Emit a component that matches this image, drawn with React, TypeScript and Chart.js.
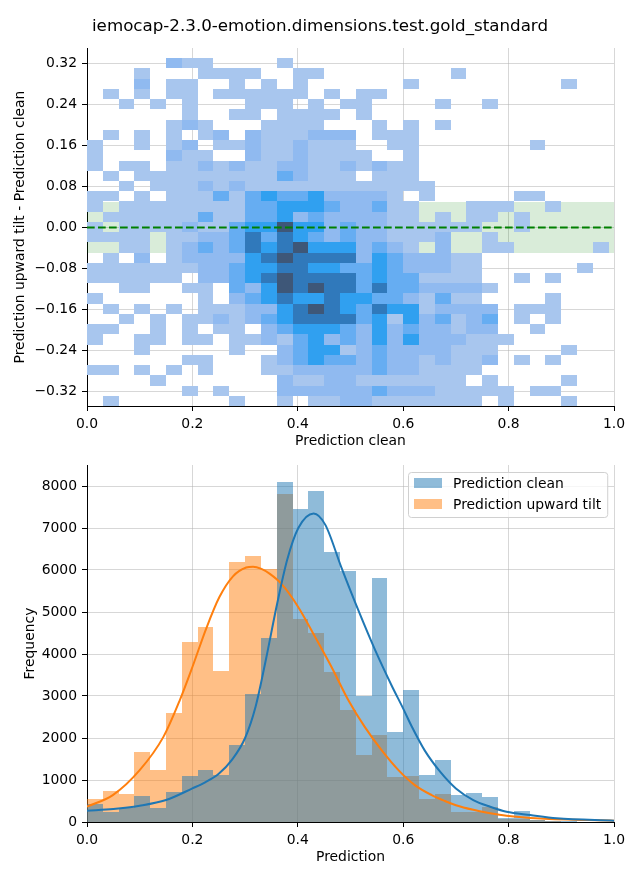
import React, { useEffect, useRef } from 'react';
import { Chart, registerables } from 'chart.js';

Chart.register(...registerables);

// ---------- text ----------
const TITLE = 'iemocap-2.3.0-emotion.dimensions.test.gold_standard';
const TOP_X_LABEL = 'Prediction clean';
const TOP_Y_LABEL = 'Prediction upward tilt - Prediction clean';
const BOT_X_LABEL = 'Prediction';
const BOT_Y_LABEL = 'Frequency';
const SERIES_CLEAN = 'Prediction clean';
const SERIES_TILT = 'Prediction upward tilt';

// ---------- top: 2D histogram (difference vs clean) ----------
const heatXStart = 0;
const heatXStep = 0.03;
const heatYStart = -0.349;
const heatYStep = 0.02;
// count level per cell (0 = empty ... 6 = highest), top row first, 34 columns
const heatRows = [
  '0000000000000000000000000000000000',
  '0000021100001000000000000000000000',
  '0001000111100110000000010000000000',
  '0002011001010100000010000000001000',
  '0101011011111101011000000000000000',
  '0010101000111010110000100100000000',
  '0000001001101111010000000000000000',
  '0000012100011110001010100000000000',
  '0101010120211122201110000000000000',
  '1001012011211211100110000000100000',
  '1000021100211211110010000000000000',
  '1011011212112211212110000000000000',
  '0101111111113211101110000000000000',
  '0010111212111111111111000000000000',
  '1101011131343342222101000001100000',
  '1011111111334443223110001110010000',
  '0111111311334232222110101101000000',
  '1011112113446442322111111001000000',
  '1111011223535432322111200100000000',
  '0011012323545644423210200110000010',
  '0102012222456555524322211000000000',
  '1111111223445544334322211000000100',
  '1111110223456555534331111001010000',
  '0011001103246565535332222100000000',
  '1000000102345445443321311000010000',
  '0101010111224565435441222201110000',
  '0010101121234555534142312301010000',
  '1100101011023444324232212200100000',
  '1001101101121342324242221110000000',
  '0001000001002344123222211100001000',
  '0000001100012343323221211201010000',
  '1101010100011222223221111000000000',
  '0000100000002112211111110100001000',
  '0000001010002222223222111110110000',
  '0100000001001011221111111010001000',
];
const heatPalette = ['#ffffff', '#a8c6ee', '#90baf0', '#66adf2', '#30a0f0', '#3079bb', '#3e5778'];
const bandLow = -0.05;
const bandHigh = 0.05;
const zeroLine = 0;
const topXRange = [0, 1];
const topYRange = [-0.349, 0.351];
const topYTicks = [-0.32, -0.24, -0.16, -0.08, 0, 0.08, 0.16, 0.24, 0.32];
const xTicks = [0, 0.2, 0.4, 0.6, 0.8, 1.0];

// ---------- bottom: histograms + KDE ----------
const binStart = 0;
const binWidth = 0.03;
const cleanCounts = [435, 245, 340, 618, 340, 713, 1093, 1235, 1116, 1829, 3040, 4370, 8100, 7458, 7886, 6437, 5986, 2993, 5819, 2138, 3135, 1116, 1473, 641, 689, 594, 90, 261, 40, 20, 15, 10, 5, 3];
const tiltCounts = [546, 736, 673, 1663, 1235, 2589, 4276, 4632, 3587, 6200, 6342, 6025, 7800, 4822, 4489, 3563, 2660, 1591, 2066, 1069, 1093, 546, 665, 230, 250, 356, 70, 70, 40, 20, 10, 8, 5, 3];
const cleanKdeX = [0, 0.05, 0.1, 0.15, 0.2, 0.225, 0.25, 0.275, 0.3, 0.32, 0.34, 0.36, 0.38, 0.401, 0.43, 0.452, 0.483, 0.515, 0.547, 0.578, 0.6, 0.616, 0.641, 0.67, 0.7, 0.733, 0.765, 0.796, 0.841, 0.891, 1.0];
const cleanKdeY = [270, 309, 388, 523, 800, 950, 1150, 1480, 2000, 2750, 3900, 5150, 6250, 7000, 7347, 7080, 6050, 5036, 4085, 3250, 2700, 2280, 1700, 1200, 800, 523, 364, 245, 166, 87, 32];
const tiltKdeX = [0, 0.049, 0.1, 0.145, 0.176, 0.2, 0.226, 0.251, 0.277, 0.302, 0.315, 0.331, 0.347, 0.369, 0.401, 0.433, 0.464, 0.496, 0.527, 0.559, 0.591, 0.622, 0.654, 0.679, 0.7, 0.733, 0.765, 0.796, 0.86, 1.0];
const tiltKdeY = [364, 641, 1235, 2027, 2898, 3690, 4600, 5350, 5850, 6060, 6080, 6025, 5907, 5669, 5115, 4402, 3690, 2898, 2264, 1710, 1235, 879, 641, 500, 400, 290, 210, 150, 85, 32];
const botYRange = [0, 8500];
const botYTicks = [0, 1000, 2000, 3000, 4000, 5000, 6000, 7000, 8000];

// ---------- styles ----------
const FONT = 'DejaVu Sans';
const FS = 13.9;
const GRID = 'rgba(176,176,176,0.5)';
const BLUE = '#1f77b4';
const ORANGE = '#ff7f0e';
const BLUE_FILL = 'rgba(31,119,180,0.5)';
const ORANGE_FILL = 'rgba(255,127,14,0.5)';

const fmtMinus = (s: string) => s.replace('-', '\u2212');

function axisCommon(ticks: number[], fmt: (v: number) => string, titleText: string, titlePad: any) {
  return {
    type: 'linear',
    z: 1,
    grid: { color: GRID, lineWidth: 1, tickLength: 5, tickColor: '#000', tickWidth: 1, offset: false },
    border: { display: true, color: '#000', width: 1 },
    ticks: {
      color: '#000',
      font: { family: FONT, size: FS },
      padding: 5,
      autoSkip: false,
      maxRotation: 0,
      minRotation: 0,
      callback: (v: any) => fmt(Number(v)),
    },
    afterBuildTicks: (scale: any) => {
      scale.ticks = ticks.map((v) => ({ value: v }));
    },
    title: {
      display: true,
      text: titleText,
      color: '#000',
      font: { family: FONT, size: FS },
      padding: titlePad,
    },
  };
}

function fixSize(prop: 'width' | 'height', size: number) {
  return (s: any) => {
    s[prop] = size;
    s.paddingTop = 0;
    s.paddingBottom = 0;
    s.paddingLeft = 0;
    s.paddingRight = 0;
  };
}

// drawn just before the zero line (dataset 0), i.e. after the green band
const heatmapPlugin = {
  id: 'heatmap',
  beforeDatasetDraw(chart: any, args: any) {
    if (args.index !== 0) return;
    const { ctx, chartArea, scales } = chart;
    const xs = scales.x;
    const ys = scales.y;
    const nRows = heatRows.length;
    ctx.save();
    ctx.beginPath();
    ctx.rect(chartArea.left, chartArea.top, chartArea.right - chartArea.left, chartArea.bottom - chartArea.top);
    ctx.clip();
    heatRows.forEach((row, r) => {
      const yBottom = heatYStart + (nRows - 1 - r) * heatYStep;
      const yTop = yBottom + heatYStep;
      const py0 = Math.round(ys.getPixelForValue(yTop));
      const py1 = Math.round(ys.getPixelForValue(yBottom));
      for (let c = 0; c < row.length; c++) {
        const lvl = Number(row[c]);
        if (!lvl) continue;
        const x0 = heatXStart + c * heatXStep;
        const px0 = Math.round(xs.getPixelForValue(x0));
        const px1 = Math.round(xs.getPixelForValue(x0 + heatXStep));
        ctx.fillStyle = heatPalette[lvl];
        ctx.fillRect(px0, py0, px1 - px0, py1 - py0);
      }
    });
    ctx.restore();
  },
};

// snap bar edges to whole pixels so adjacent translucent bars do not show seams
const snapBarsPlugin = {
  id: 'snapBars',
  beforeDatasetDraw(chart: any, args: any) {
    const meta = chart.getDatasetMeta(args.index);
    if (meta.type !== 'bar') return;
    meta.data.forEach((el: any) => {
      const left = Math.round(el.x - el.width / 2);
      const right = Math.round(el.x + el.width / 2);
      el.x = (left + right) / 2;
      el.width = right - left;
      el.y = Math.round(el.y);
      el.base = Math.round(el.base);
      el.inflateAmount = 0;
    });
  },
};

const titlePlugin = {
  id: 'figTitle',
  afterDraw(chart: any) {
    const { ctx } = chart;
    ctx.save();
    ctx.font = `16.7px "${FONT}"`;
    ctx.fillStyle = '#000';
    ctx.textAlign = 'center';
    ctx.textBaseline = 'middle';
    ctx.fillText(TITLE, chart.width / 2, 27);
    ctx.restore();
  },
};

const boxLegendPlugin = {
  id: 'boxLegend',
  afterDraw(chart: any) {
    const { ctx, chartArea } = chart;
    const items = chart.data.datasets.filter((d: any) => d.type === 'bar');
    ctx.save();
    ctx.font = `${FS}px "${FONT}"`;
    const tw = Math.max(...items.map((d: any) => ctx.measureText(d.label).width));
    const w = 6 + 28 + 11 + tw + 6;
    const h = 45;
    const x = Math.round(chartArea.right - 7 - w);
    const y = Math.round(chartArea.top + 7);
    ctx.beginPath();
    if ((ctx as any).roundRect) (ctx as any).roundRect(x + 0.5, y + 0.5, w, h, 3);
    else ctx.rect(x + 0.5, y + 0.5, w, h);
    ctx.fillStyle = 'rgba(255,255,255,0.8)';
    ctx.fill();
    ctx.strokeStyle = '#d0d0d0';
    ctx.lineWidth = 1;
    ctx.stroke();
    items.forEach((d: any, i: number) => {
      const cy = y + 11 + i * 21;
      ctx.fillStyle = d.backgroundColor;
      ctx.fillRect(x + 6, cy - 5, 28, 10);
      ctx.fillStyle = '#000';
      ctx.textAlign = 'left';
      ctx.textBaseline = 'middle';
      ctx.fillText(d.label, x + 45, cy + 1);
    });
    ctx.restore();
  },
};

function topConfig(): any {
  const xAxis: any = axisCommon(xTicks, (v) => v.toFixed(1), TOP_X_LABEL, { top: 0, bottom: 5.7 });
  xAxis.min = topXRange[0];
  xAxis.max = topXRange[1];
  xAxis.afterFit = fixSize('height', 49);
  const yAxis: any = axisCommon(topYTicks, (v) => fmtMinus((Math.abs(v) < 1e-9 ? 0 : v).toFixed(2)), TOP_Y_LABEL, { top: 12.4, bottom: 0 });
  yAxis.min = topYRange[0];
  yAxis.max = topYRange[1];
  yAxis.afterFit = fixSize('width', 87);
  // Chart.js draws datasets last-to-first: band low, band (filled), then zero line on top
  return {
    type: 'scatter',
    data: {
      datasets: [
        {
          label: 'zero',
          data: [{ x: topXRange[0], y: zeroLine }, { x: topXRange[1], y: zeroLine }],
          showLine: true, borderWidth: 2, pointRadius: 0, borderColor: '#008000',
          borderDash: [7.7, 3.3], fill: false,
        },
        {
          label: 'band high',
          data: [{ x: topXRange[0], y: bandHigh }, { x: topXRange[1], y: bandHigh }],
          showLine: true, borderWidth: 0, pointRadius: 0, borderColor: 'rgba(0,0,0,0)',
          fill: '+1', backgroundColor: 'rgba(0,128,0,0.15)',
        },
        {
          label: 'band low',
          data: [{ x: topXRange[0], y: bandLow }, { x: topXRange[1], y: bandLow }],
          showLine: true, borderWidth: 0, pointRadius: 0, borderColor: 'rgba(0,0,0,0)', fill: false,
        },
      ],
    },
    options: {
      responsive: false,
      animation: false,
      devicePixelRatio: 1,
      layout: { padding: { left: 0, right: 26, top: 48, bottom: 0 } },
      plugins: { legend: { display: false }, tooltip: { enabled: false }, title: { display: false } },
      scales: { x: xAxis, y: yAxis },
    },
    plugins: [heatmapPlugin, titlePlugin],
  };
}

function botConfig(): any {
  const centers = cleanCounts.map((_, i) => binStart + (i + 0.5) * binWidth);
  const xAxis: any = axisCommon(xTicks, (v) => v.toFixed(1), BOT_X_LABEL, { top: 0, bottom: 14.7 });
  xAxis.min = 0;
  xAxis.max = 1;
  xAxis.offset = false;
  xAxis.afterFit = fixSize('height', 58);
  const yAxis: any = axisCommon(botYTicks, (v) => String(Math.round(v)), BOT_Y_LABEL, { top: 21.7, bottom: 0 });
  yAxis.min = botYRange[0];
  yAxis.max = botYRange[1];
  yAxis.afterFit = fixSize('width', 87);
  return {
    type: 'bar',
    data: {
      datasets: [
        {
          type: 'line', label: 'kde clean',
          data: cleanKdeX.map((x, i) => ({ x, y: cleanKdeY[i] })),
          borderColor: BLUE, borderWidth: 2, pointRadius: 0, cubicInterpolationMode: 'monotone', fill: false, order: 0,
        },
        {
          type: 'line', label: 'kde tilt',
          data: tiltKdeX.map((x, i) => ({ x, y: tiltKdeY[i] })),
          borderColor: ORANGE, borderWidth: 2, pointRadius: 0, cubicInterpolationMode: 'monotone', fill: false, order: 0,
        },
        {
          type: 'bar', label: SERIES_CLEAN,
          data: centers.map((x, i) => ({ x, y: cleanCounts[i] })),
          backgroundColor: BLUE_FILL, borderWidth: 0, barPercentage: 1, categoryPercentage: 1, grouped: false,
          inflateAmount: 0, order: 1,
        },
        {
          type: 'bar', label: SERIES_TILT,
          data: centers.map((x, i) => ({ x, y: tiltCounts[i] })),
          backgroundColor: ORANGE_FILL, borderWidth: 0, barPercentage: 1, categoryPercentage: 1, grouped: false,
          inflateAmount: 0, order: 2,
        },
      ],
    },
    options: {
      responsive: false,
      animation: false,
      devicePixelRatio: 1,
      layout: { padding: { left: 0, right: 26, top: 10, bottom: 0 } },
      plugins: { legend: { display: false }, tooltip: { enabled: false } },
      scales: { x: xAxis, y: yAxis },
    },
    plugins: [snapBarsPlugin, boxLegendPlugin],
  };
}

export default function App() {
  const topRef = useRef<HTMLCanvasElement>(null);
  const botRef = useRef<HTMLCanvasElement>(null);
  useEffect(() => {
    const c1 = new Chart(topRef.current as HTMLCanvasElement, topConfig());
    const c2 = new Chart(botRef.current as HTMLCanvasElement, botConfig());
    return () => {
      c1.destroy();
      c2.destroy();
    };
  }, []);
  return (
    <div style={{ position: 'absolute', left: 0, top: 0, width: 640, height: 880, background: '#ffffff' }}>
      <canvas ref={topRef} width={640} height={455} style={{ position: 'absolute', left: 0, top: 0, width: 640, height: 455 }} />
      <canvas ref={botRef} width={640} height={425} style={{ position: 'absolute', left: 0, top: 455, width: 640, height: 425 }} />
    </div>
  );
}
